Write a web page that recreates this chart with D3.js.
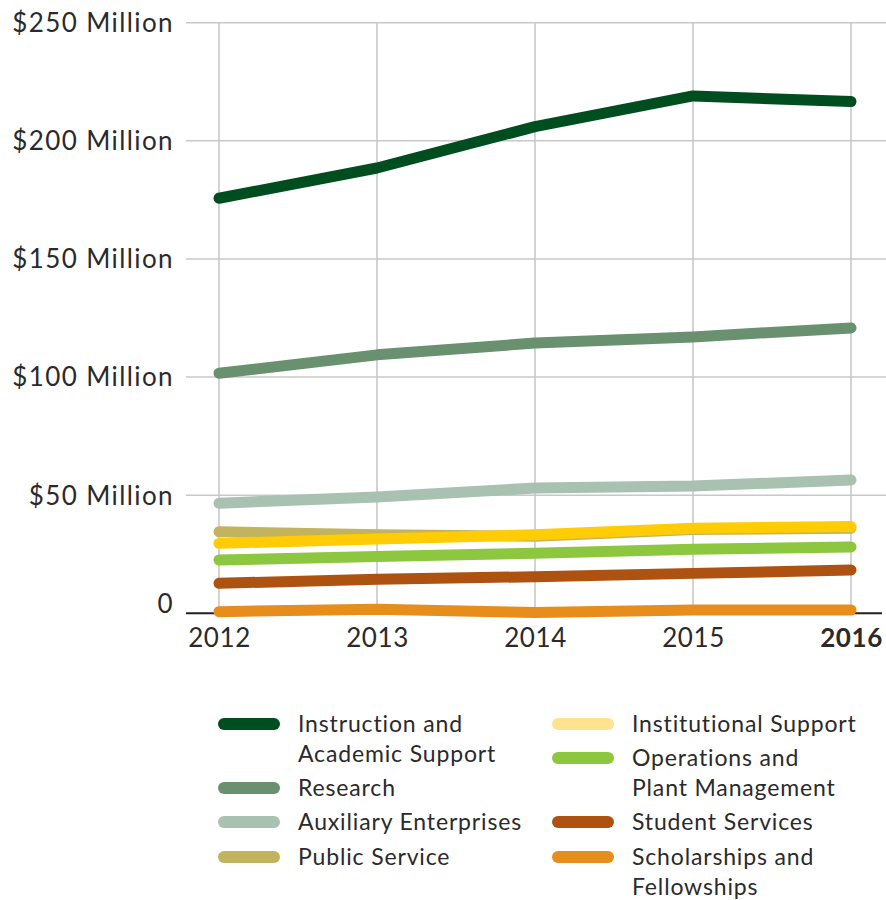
<!DOCTYPE html>
<html>
<head>
<meta charset="utf-8">
<script src="https://cdn.jsdelivr.net/npm/d3@7"></script>
<style>
  html, body { margin: 0; padding: 0; background: #fff; }
  svg { display: block; }
  text { font-family: Lato, "Open Sans", sans-serif; fill: #2b2a2b; }
</style>
</head>
<body>
<svg id="chart" width="886" height="900"></svg>
<script>
// Fiscal years on the x axis
const years = ["2012", "2013", "2014", "2015", "2016"];

// Expenses by category, in millions of dollars
const instruction   = [175.7, 188.5, 206.0, 219.0, 216.6];
const research      = [101.6, 109.4, 114.4, 117.0, 120.8];
const auxiliary     = [46.6, 49.2, 53.0, 53.9, 56.4];
const publicService = [34.5, 33.2, 32.6, 35.5, 36.0];
const institutional = [29.6, 31.5, 33.2, 36.0, 36.7];
const operations    = [22.6, 24.0, 25.4, 27.1, 28.1];
const student       = [12.7, 14.4, 15.5, 16.9, 18.3];
const scholarships  = [0.7, 1.7, 0.3, 1.4, 1.4];

// Y axis ticks and labels
const yTicks = [0, 50, 100, 150, 200, 250];
const yTickLabels = ["0", "$50 Million", "$100 Million", "$150 Million", "$200 Million", "$250 Million"];

// Series, in drawing order (later ones sit on top)
const seriesNames = [
  "Instruction and\nAcademic Support", "Research", "Auxiliary Enterprises", "Public Service",
  "Institutional Support", "Operations and\nPlant Management", "Student Services", "Scholarships and\nFellowships"
];
const seriesValues = [instruction, research, auxiliary, publicService, institutional, operations, student, scholarships];
const lineColors   = ["#004d1f", "#69906f", "#a9c1b1", "#c2b45f", "#ffcc05", "#8dc63f", "#ad5210", "#e68d1c"];
const legendColors = ["#004d1f", "#69906f", "#a9c1b1", "#c2b45f", "#ffe390", "#8dc63f", "#ad5210", "#e68d1c"];

const FONT = "Lato, 'Open Sans', sans-serif";
const svg = d3.select("#chart");

const x = d3.scalePoint().domain(years).range([219, 851]);
const y = d3.scaleLinear().domain([0, 250]).range([613.3, 22.7]);

// Grid
const grid = svg.append("g");
grid.selectAll("line.h").data(yTicks.filter(d => d > 0)).join("line")
  .attr("x1", 186).attr("x2", 886)
  .attr("y1", d => y(d)).attr("y2", d => y(d))
  .attr("stroke", "#c8c8c8").attr("stroke-width", 1.6);
grid.selectAll("line.v").data(years).join("line")
  .attr("x1", d => x(d)).attr("x2", d => x(d))
  .attr("y1", y(250)).attr("y2", y(0))
  .attr("stroke", "#c8c8c8").attr("stroke-width", 1.6);

// Baseline
svg.append("line")
  .attr("x1", 186).attr("x2", 882)
  .attr("y1", y(0)).attr("y2", y(0))
  .attr("stroke", "#231f20").attr("stroke-width", 2);

// Y axis labels
const yAxis = svg.append("g")
  .attr("transform", "translate(174,0)")
  .call(d3.axisLeft(y).tickValues(yTicks).tickSize(0).tickPadding(0)
    .tickFormat((d, i) => yTickLabels[i]));
yAxis.select(".domain").remove();
yAxis.selectAll("text")
  .attr("font-family", FONT)
  .attr("font-size", 26)
  .attr("font-weight", 400)
  .attr("letter-spacing", 1.4)
  .attr("fill", "#333132")
  .attr("dy", d => d === 0 ? "-0.05em" : "0.34em");

// X axis labels
const xAxis = svg.append("g")
  .attr("transform", `translate(0,${y(0)})`)
  .call(d3.axisBottom(x).tickSize(0).tickPadding(15));
xAxis.select(".domain").remove();
xAxis.selectAll("text")
  .attr("font-family", FONT)
  .attr("font-size", 26)
  .attr("letter-spacing", 0.6)
  .attr("fill", "#333132")
  .attr("font-weight", d => d === "2016" ? 700 : 400);

// Lines
const line = d3.line().x((d, i) => x(years[i])).y(d => y(d));
svg.append("g").selectAll("path").data(seriesValues).join("path")
  .attr("d", d => line(d))
  .attr("fill", "none")
  .attr("stroke", (d, i) => lineColors[i])
  .attr("stroke-width", 11)
  .attr("stroke-linecap", "round")
  .attr("stroke-linejoin", "round");

// Legend: two columns
const legendItems = [
  { i: 0, col: 0, row: 724 }, { i: 1, col: 0, row: 788 }, { i: 2, col: 0, row: 822 }, { i: 3, col: 0, row: 857 },
  { i: 4, col: 1, row: 724 }, { i: 5, col: 1, row: 758 }, { i: 6, col: 1, row: 822 }, { i: 7, col: 1, row: 857 }
];
const colX = [218, 552];
const legend = svg.append("g");
const item = legend.selectAll("g").data(legendItems).join("g")
  .attr("transform", d => `translate(${colX[d.col]},${d.row})`);
item.append("line")
  .attr("x1", 6).attr("x2", 56).attr("y1", 0).attr("y2", 0)
  .attr("stroke", d => legendColors[d.i])
  .attr("stroke-width", 12)
  .attr("stroke-linecap", "round");
item.append("text")
  .attr("x", 80)
  .attr("font-family", FONT)
  .attr("font-size", 23)
  .attr("font-weight", 400)
  .attr("letter-spacing", 0.85)
  .attr("fill", "#333132")
  .selectAll("tspan").data(d => seriesNames[d.i].split("\n")).join("tspan")
  .attr("x", 80)
  .attr("y", (d, k) => k * 30)
  .attr("dy", "0.36em")
  .text(d => d);
</script>
</body>
</html>
